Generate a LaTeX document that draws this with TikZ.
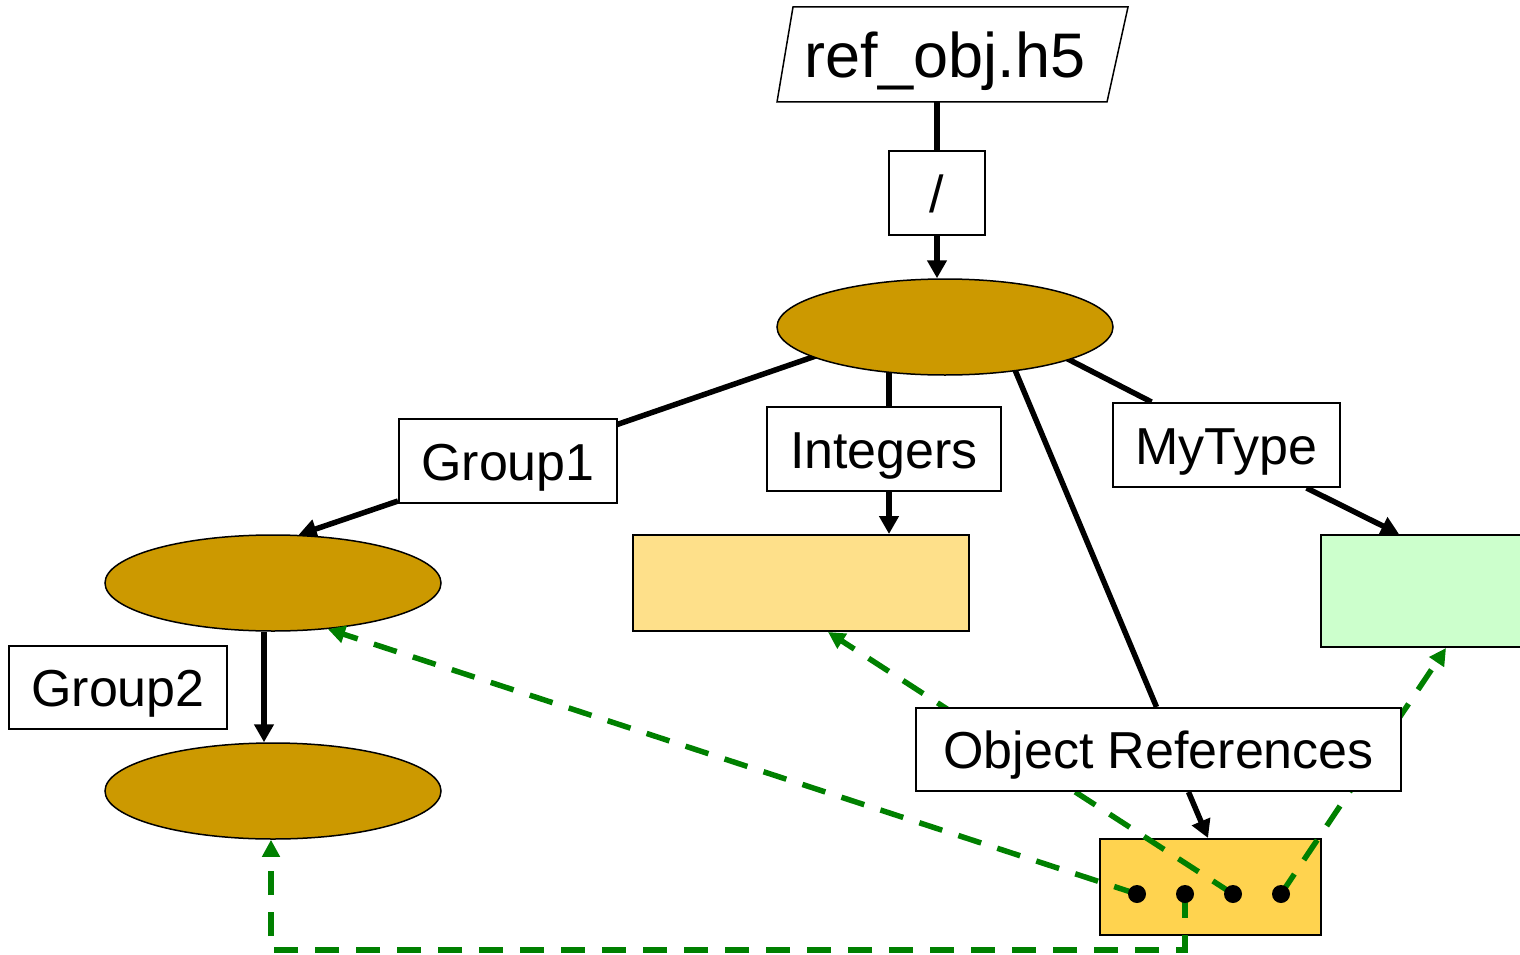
\documentclass[tikz,border=0pt]{standalone}
\usepackage{fontspec}
\setmainfont{Liberation Sans}
\usetikzlibrary{shapes.geometric,arrows.meta,calc}
\definecolor{gold}{HTML}{CC9900}
\definecolor{intfill}{HTML}{FEE08A}
\definecolor{reffill}{HTML}{FFD34F}
\definecolor{typefill}{HTML}{CCFFCC}
\definecolor{ggreen}{HTML}{008000}
\pgfdeclarelayer{background}
\pgfdeclarelayer{greenl}
\pgfdeclarelayer{labels}
\pgfdeclarelayer{front}
\pgfsetlayers{background,main,greenl,labels,front}
\tikzset{
  lbl/.style={draw, line width=2pt, fill=white, inner sep=0pt,
    text height=38pt, text depth=0pt, font=\fontsize{52}{60}\selectfont},
  ell/.style={ellipse, draw, line width=1.5pt, fill=gold,
    minimum width=336pt, minimum height=96pt, inner sep=0pt},
  datarect/.style={draw, line width=2pt, inner sep=0pt},
  conn/.style={line width=5.5pt},
  arr/.style={line width=5.5pt, -{Triangle[length=18pt,width=19pt]}},
  garr/.style={draw=ggreen, line width=5.5pt, dash pattern=on 24pt off 17pt,
    -{Triangle[length=17pt,width=17pt]}},
  dotnode/.style={circle, fill=black, inner sep=0pt, minimum size=18pt}
}
\begin{document}
\begin{tikzpicture}[x=1pt,y=-1pt]
\useasboundingbox (0,0) rectangle (1520,955);

% data objects
\node[ell] (root) at (945,327) {};
\node[ell] (g1) at (273,583) {};
\node[ell] (g2) at (273,791) {};
\node[datarect, fill=intfill, minimum width=336pt, minimum height=96pt] (intdata) at (801,583) {};
\node[datarect, fill=typefill, minimum width=220pt, minimum height=112pt] (typedata) at (1431,591) {};
\node[datarect, fill=reffill, minimum width=221pt, minimum height=96pt] (refdata) at (1210.5,887) {};

% file node (parallelogram) and labels
\begin{pgfonlayer}{labels}
\draw[line width=1.5pt, fill=white] (793,7) -- (1128,7) -- (1107,102) -- (777,102) -- cycle;
\node[inner sep=0pt, minimum width=330pt, minimum height=95pt, text height=46pt, text depth=0pt,
  font=\fontsize{63}{70}\selectfont] (file) at (945,54.5) {ref\_obj.h5};
\node[lbl, minimum width=96pt, minimum height=84pt] (slash) at (937,193) {/};
\node[lbl, minimum width=218pt, minimum height=84pt] (group1) at (508,461) {Group1};
\node[lbl, minimum width=218pt, minimum height=83pt] (group2) at (118,687.5) {Group2};
\node[lbl, minimum width=234pt, minimum height=84pt] (integers) at (884,449) {Integers};
\node[lbl, minimum width=227pt, minimum height=84pt] (mytype) at (1226.5,445) {MyType};
\node[lbl, minimum width=485pt, minimum height=83pt] (objref) at (1158.5,749.5) {Object References};
\end{pgfonlayer}

% dot positions
\coordinate (d1) at (1137,894);
\coordinate (d2) at (1185,894);
\coordinate (d3) at (1233,894);
\coordinate (d4) at (1281,894);
\coordinate (gb) at (1185,950);

% black connectors
\begin{pgfonlayer}{background}
\draw[conn] (file.south -| slash.north) -- (slash.north);
\draw[arr] (slash.south) -- (slash.south |- root.north);
\draw[conn] ([shift={(-80,12)}]root.center) -- ([shift={(-40,20)}]group1.north east);
\draw[arr] ([yshift=3pt]group1.south west) -- (g1.62);
\draw[arr] ([xshift=-9pt]g1.south) -- ([xshift=-9pt]g2.north);
\draw[conn] ([xshift=-56pt]root.center) -- ([xshift=5pt]integers.north);
\draw[arr] ([xshift=5pt]integers.south) -- ([xshift=88pt]intdata.north);
\draw[conn] ([shift={(57.4,13)}]root.center) -- ([xshift=-2pt]objref.north);
\draw[arr] ([xshift=30pt]objref.south) -- ([xshift=-2.5pt]refdata.north);
\draw[conn] ([shift={(77,8.5)}]root.center) -- ([xshift=-75pt]mytype.north);
\draw[arr] ([xshift=80pt]mytype.south) -- ([xshift=79pt]typedata.north west);
\end{pgfonlayer}

% green reference arrows
\begin{pgfonlayer}{greenl}
\draw[garr] (d1) -- (g1.-40);
\draw[garr] (d2) -- (gb) -| ([xshift=-2pt]g2.south);
\draw[garr] (d3) -- ([xshift=27pt]intdata.south);
\draw[garr] (d4) -- ([xshift=126pt]typedata.south west);
\end{pgfonlayer}

% dots
\begin{pgfonlayer}{front}
\node[dotnode] (dot1) at (d1) {};
\node[dotnode] (dot2) at (d2) {};
\node[dotnode] (dot3) at (d3) {};
\node[dotnode] (dot4) at (d4) {};
\end{pgfonlayer}
\end{tikzpicture}
\end{document}
